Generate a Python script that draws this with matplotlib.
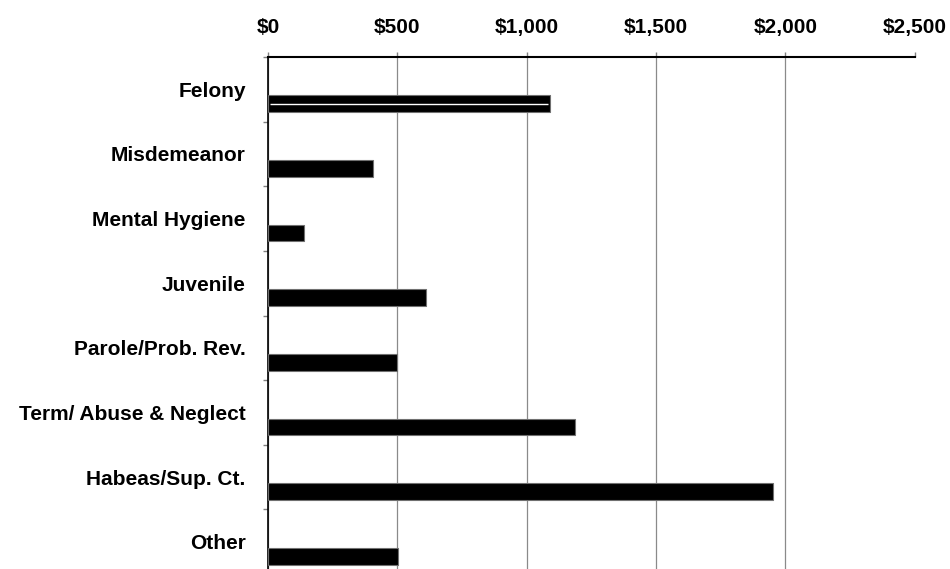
import matplotlib.pyplot as plt
import numpy as np

# cost per case by case type
categories = ['Felony', 'Misdemeanor', 'Mental Hygiene', 'Juvenile',
              'Parole/Prob. Rev.', 'Term/ Abuse & Neglect', 'Habeas/Sup. Ct.', 'Other']
costs = [1090, 405, 138, 612, 498, 1188, 1952, 502]
xticks = [0, 500, 1000, 1500, 2000, 2500]
xlabels = ['$0', '$500', '$1,000', '$1,500', '$2,000', '$2,500']

plt.rcParams['font.family'] = ['Liberation Sans', 'DejaVu Sans']

fig = plt.figure(figsize=(9.5, 5.69), dpi=100)
ax = fig.add_axes([0.282, -0.009, 0.681, 0.909])

pos = np.arange(len(categories))
ax.barh(pos + 0.225, costs, height=0.26, color='black', edgecolor='#707070',
        linewidth=0.8, zorder=3)
# thin white line through the first bar
ax.hlines(pos[0] + 0.225, 8, costs[0] - 8, color='white', linewidth=1, zorder=4)

ax.set_xlim(0, 2500)
ax.set_ylim(len(categories) - 0.5, -0.5)

ax.xaxis.tick_top()
ax.set_xticks(xticks)
ax.set_xticklabels(xlabels, fontsize=15, fontweight='bold')
ax.tick_params(axis='x', direction='out', length=3.6, width=1, color='#808080', pad=11)

ax.set_yticks(pos)
ax.set_yticklabels(categories, fontsize=15, fontweight='bold')
ax.set_yticks(np.arange(len(categories)) - 0.5, minor=True)
ax.tick_params(axis='y', which='major', length=0, pad=16)
ax.tick_params(axis='y', which='minor', length=3.6, width=1, color='#808080')

ax.grid(axis='x', color='#8a8a8a', linewidth=0.9, zorder=0)
ax.xaxis.get_gridlines()[-1].set_visible(False)

for s in ['right', 'bottom']:
    ax.spines[s].set_visible(False)
ax.spines['top'].set_linewidth(1.5)
ax.spines['left'].set_linewidth(1.2)

plt.savefig('out.png', dpi=100)
